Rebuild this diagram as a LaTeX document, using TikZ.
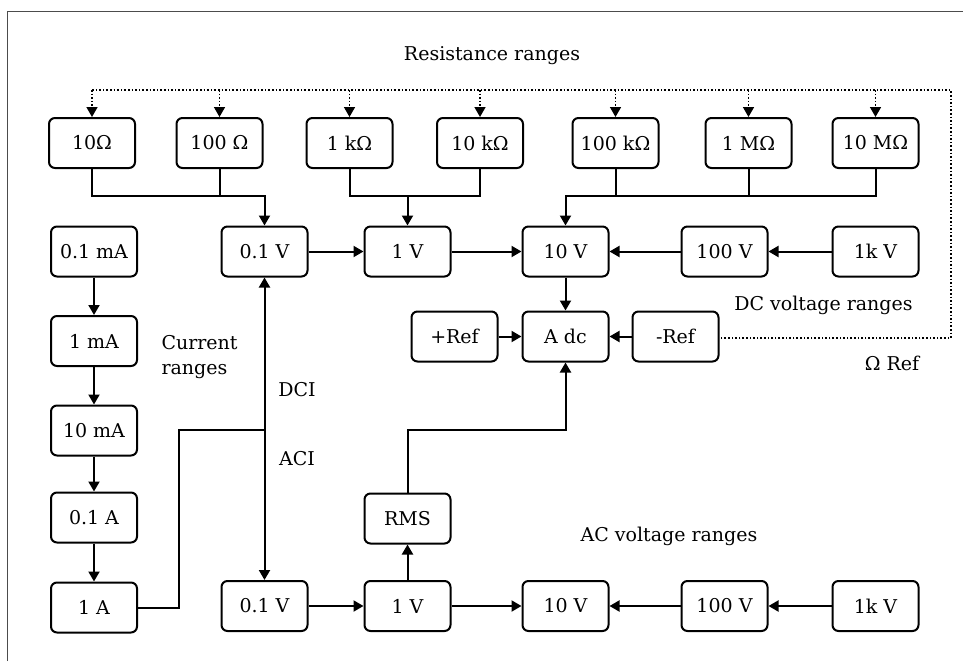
\documentclass[tikz,border=0pt]{standalone}
\usepackage{fontspec}
\setmainfont{DejaVu Serif}
\usetikzlibrary{arrows.meta}
\begin{document}
\begin{tikzpicture}[x=1pt,y=-1pt,
  every node/.style={font=\fontsize{19}{25}\selectfont},
  box/.style={draw, line width=2pt, rounded corners=6pt, minimum width=86pt, minimum height=50pt, inner sep=0pt},
  wire/.style={line width=2pt},
  arr/.style={wire, -{Triangle[length=10pt,width=11pt]}},
  darr/.style={wire, {Triangle[length=10pt,width=11pt]}-{Triangle[length=10pt,width=11pt]}},
  dots/.style={line width=1.6pt, dotted},
  frame/.style={draw=black!70, line width=1.4pt}]
\useasboundingbox (0,0) rectangle (963,661);
\coordinate (f0) at (7.5,661);
\coordinate (f1) at (7.5,11.5);
\coordinate (f2) at (963,11.5);
\draw[frame] (f0) -- (f1) -- (f2);

% resistance ranges
\node[box] (r1) at (92,143) {10Ω};
\node[box] (r2) at (219.5,143) {100 Ω};
\node[box] (r3) at (349.5,143) {1 kΩ};
\node[box] (r4) at (480,143) {10 kΩ};
\node[box] (r5) at (615.5,143) {100 kΩ};
\node[box] (r6) at (748.5,143) {1 MΩ};
\node[box] (r7) at (875.5,143) {10 MΩ};

% DC voltage
\node[box] (dc1) at (264.5,251.5) {0.1 V};
\node[box] (dc2) at (407.5,251.5) {1 V};
\node[box] (dc3) at (565.5,251.5) {10 V};
\node[box] (dc4) at (724.5,251.5) {100 V};
\node[box] (dc5) at (875.5,251.5) {1k V};

% current
\node[box] (i1) at (94,251.5) {0.1 mA};
\node[box] (i2) at (94,341) {1 mA};
\node[box] (i3) at (94,430.5) {10 mA};
\node[box] (i4) at (94,517.5) {0.1 A};
\node[box] (i5) at (94,607.5) {1 A};

% converter
\node[box] (pref) at (454.5,336.5) {+Ref};
\node[box] (adc) at (565.5,336.5) {A dc};
\node[box] (mref) at (675.5,336.5) {-Ref};
\node[box] (rms) at (407.5,518.5) {RMS};

% AC voltage
\node[box] (ac1) at (264.5,606) {0.1 V};
\node[box] (ac2) at (407.5,606) {1 V};
\node[box] (ac3) at (565.5,606) {10 V};
\node[box] (ac4) at (724.5,606) {100 V};
\node[box] (ac5) at (875.5,606) {1k V};

% labels
\node (lres) at (492,56) {Resistance ranges};
\node (ldc) at (823.5,305) {DC voltage ranges};
\node (lref) at (892,363) {Ω Ref};
\node[anchor=west, align=left] (lcur) at (158,357) {Current\\ranges};
\node (ldci) at (297,390) {DCI};
\node (laci) at (297,459) {ACI};
\node (lac) at (669,536) {AC voltage ranges};

% dotted ohm reference
\coordinate (dtop) at (92,90);
\coordinate (dcor) at (951,90);
\coordinate (dbot) at (951,338);
\draw[dots] (dtop) -- (dcor) -- (dbot) -- (mref.east |- dbot);
\foreach \r in {r1,r2,r3,r4,r5,r6,r7}
  \draw[dots, -{Triangle[length=10pt,width=11pt]}] (\r.north |- dtop) -- (\r.north);

% resistance to DC voltage
\coordinate (j1) at (264.5,196);
\coordinate (j2) at (407.5,196);
\coordinate (j3) at (565.5,196);
\draw[arr] (r1.south) |- (j1) -- (dc1.north);
\draw[wire] (r2.south) -- (r2.south |- j1);
\draw[wire] (r3.south) |- (r4.south |- j2) -- (r4.south);
\draw[arr] (j2) -- (dc2.north);
\draw[arr] (r7.south) |- (j3) -- (dc3.north);
\draw[wire] (r5.south) -- (r5.south |- j3);
\draw[wire] (r6.south) -- (r6.south |- j3);

% DC chain
\draw[arr] (dc1) -- (dc2);
\draw[arr] (dc2) -- (dc3);
\draw[arr] (dc4) -- (dc3);
\draw[arr] (dc5) -- (dc4);
\draw[arr] (dc3) -- (adc);
\draw[arr] (pref) -- (adc);
\draw[arr] (mref) -- (adc);

% current chain
\draw[arr] (i1) -- (i2);
\draw[arr] (i2) -- (i3);
\draw[arr] (i3) -- (i4);
\draw[arr] (i4) -- (i5);
\coordinate (jk) at (179,430);
\coordinate (jc) at (264.5,430);
\draw[wire] (i5.east) -| (jk) -- (jc);
\draw[darr] (dc1.south) -- (ac1.north);

% AC chain
\draw[arr] (ac1) -- (ac2);
\draw[arr] (ac2) -- (ac3);
\draw[arr] (ac4) -- (ac3);
\draw[arr] (ac5) -- (ac4);
\draw[arr] (ac2) -- (rms);
\coordinate (jr) at (565.5,430);
\draw[arr] (rms.north) |- (jr) -- (adc.south);
\end{tikzpicture}
\end{document}
